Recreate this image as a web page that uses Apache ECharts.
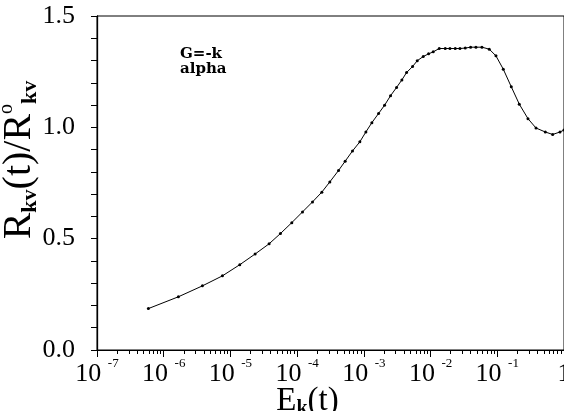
<!DOCTYPE html>
<html>
<head>
<meta charset="utf-8">
<title>Rkv(t) vs Ek(t)</title>
<script src="https://cdn.jsdelivr.net/npm/echarts@6/dist/echarts.min.js"></script>
<style>
  html, body { margin: 0; padding: 0; background: #fff; }
  #chart { width: 564px; height: 411px; }
</style>
</head>
<body>
<div id="chart"></div>
<script>
// x values are the exponents of E_k(t) (plotted on a log scale)
var logE = [-6.23, -5.78, -5.42, -5.12, -4.86, -4.63, -4.42, -4.25, -4.08, -3.92,
            -3.77, -3.63, -3.51, -3.38, -3.28, -3.17, -3.06, -2.97, -2.88, -2.78,
            -2.69, -2.60, -2.51, -2.43, -2.36, -2.27, -2.20, -2.11, -2.03, -1.96,
            -1.87, -1.78, -1.71, -1.63, -1.56, -1.48, -1.40, -1.32, -1.23, -1.12,
            -1.02, -0.91, -0.79, -0.67, -0.54, -0.42, -0.28, -0.17, -0.06, 0.0];
// R_kv(t) / R°_kv
var ratio = [0.186, 0.239, 0.288, 0.333, 0.383, 0.431, 0.477, 0.523, 0.572, 0.620,
             0.665, 0.709, 0.755, 0.806, 0.848, 0.894, 0.935, 0.979, 1.021, 1.062,
             1.099, 1.142, 1.179, 1.213, 1.246, 1.273, 1.299, 1.318, 1.330, 1.339,
             1.354, 1.354, 1.354, 1.354, 1.354, 1.356, 1.360, 1.360, 1.360, 1.351,
             1.321, 1.261, 1.182, 1.104, 1.039, 0.997, 0.979, 0.968, 0.979, 0.988];
var decadeExp = [-7, -6, -5, -4, -3, -2, -1, 0];
var yTickValues = [0.0, 0.5, 1.0, 1.5];
var noteLines = ['G=-k', 'alpha'];

// minor log ticks at 2..9 within each decade
var minorLogTicks = [];
for (var d = -7; d < 0; d++) {
    for (var k = 2; k <= 9; k++) minorLogTicks.push(d + Math.log10(k));
}

var serif = 'Liberation Serif';
var myChart = echarts.init(document.getElementById('chart'));

var option = {
    backgroundColor: '#fff',
    animation: false,
    grid: {
        left: 97, right: 0, top: 16, bottom: 61,
        outerBoundsMode: 'none',
        containLabel: false,
        show: true, borderColor: '#000', borderWidth: 1
    },
    xAxis: [{
        type: 'value',
        min: -7, max: 0, interval: 1,
        axisLine: { onZero: false, lineStyle: { color: '#000', width: 1 } },
        axisTick: { inside: false, length: 7, lineStyle: { color: '#000' } },
        splitLine: { show: false },
        axisLabel: {
            margin: 7,
            formatter: function (v) {
                if (decadeExp.indexOf(v) < 0) return '';
                if (v === 0) return '{b|1}';
                return '{b|10}{s|  ' + v + '}';
            },
            rich: {
                b: { fontFamily: serif, fontSize: 26, lineHeight: 30, color: '#000', verticalAlign: 'bottom' },
                s: { fontFamily: serif, fontSize: 13, lineHeight: 13, color: '#000', verticalAlign: 'top' }
            }
        },
        name: '{r|E}{sb|k}{r|(t)}',
        nameLocation: 'middle',
        nameGap: 33,
        nameMoveOverlap: false,
        nameTextStyle: {
            padding: [0, 46, 0, 0],
            rich: {
                r: { fontFamily: serif, fontSize: 33, lineHeight: 36, color: '#000', verticalAlign: 'middle' },
                sb: { fontFamily: serif, fontSize: 20, lineHeight: 20, color: '#000', verticalAlign: 'bottom', fontWeight: 'bold' }
            }
        }
    }, {
        type: 'value',
        min: -7, max: 0,
        position: 'bottom',
        axisLine: { show: false, onZero: false },
        axisLabel: { show: false },
        splitLine: { show: false },
        axisTick: { show: true, length: 4, customValues: minorLogTicks, lineStyle: { color: '#000' } }
    }],
    yAxis: {
        type: 'value',
        min: 0, max: 1.5, interval: 0.5,
        axisLine: { show: true, onZero: false, lineStyle: { color: '#000', width: 1.3 } },
        axisTick: { show: true, length: 6, lineStyle: { color: '#000' } },
        minorTick: { show: true, splitNumber: 5, length: 6, lineStyle: { color: '#000' } },
        splitLine: { show: false },
        axisLabel: {
            margin: 22,
            fontFamily: serif, fontSize: 26, color: '#000',
            formatter: function (v) {
                return yTickValues.indexOf(v) >= 0 ? v.toFixed(1) : '';
            }
        },
        name: '{r|R}{sb|kv}{r|(t)/R}{sp|o}{sb|kv}',
        nameLocation: 'middle',
        nameRotate: 90,
        nameGap: 56,
        nameMoveOverlap: false,
        nameTextStyle: {
            padding: [0, 0, 0, 46],
            rich: {
                r: { fontFamily: serif, fontSize: 40, lineHeight: 44, color: '#000', verticalAlign: 'middle' },
                sb: { fontFamily: serif, fontSize: 22, lineHeight: 22, color: '#000', verticalAlign: 'bottom', fontWeight: 'bold' },
                sp: { fontFamily: serif, fontSize: 20, lineHeight: 20, color: '#000', verticalAlign: 'top' }
            }
        }
    },
    graphic: [{
        type: 'text',
        left: 180, top: 47,
        style: {
            text: noteLines.join('\n'),
            fontFamily: 'DejaVu Serif',
            fontSize: 15,
            fontWeight: 'bold',
            lineHeight: 15,
            fill: '#000'
        }
    }],
    series: [{
        type: 'line',
        xAxisIndex: 0,
        data: logE.map(function (x, i) { return [x, ratio[i]]; }),
        symbol: 'circle',
        symbolSize: 3,
        showSymbol: true,
        lineStyle: { color: '#000', width: 1 },
        itemStyle: { color: '#000' },
        clip: true
    }]
};
myChart.setOption(option);
</script>
</body>
</html>
